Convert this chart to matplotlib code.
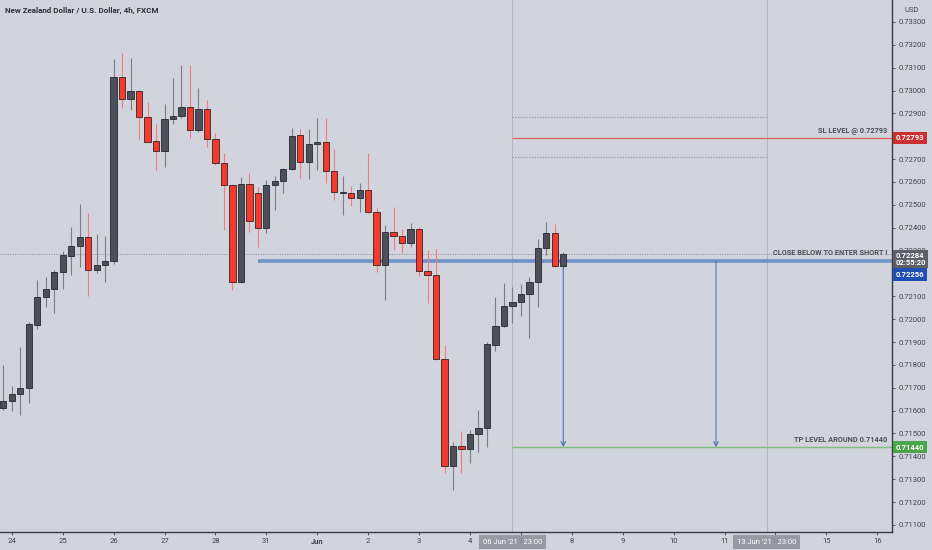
import numpy as np
import matplotlib
matplotlib.use('Agg')
from matplotlib import pyplot as plt
from matplotlib import transforms

plt.rcParams['font.family'] = ['Roboto', 'DejaVu Sans']

# NZDUSD 4h candles (one per 4h bar, weekend skipped)
opens = [0.71612, 0.71642, 0.71673, 0.71699, 0.71975, 0.72097, 0.72132, 0.72206, 0.72276, 0.72320,
         0.72360, 0.72215, 0.72237, 0.72255, 0.73059, 0.72963, 0.72998, 0.72885, 0.72779, 0.72736,
         0.72876, 0.72889, 0.72928, 0.72828, 0.72919, 0.72788, 0.72683, 0.72587, 0.72163, 0.72592,
         0.72552, 0.72399, 0.72587, 0.72605, 0.72657, 0.72806, 0.72688, 0.72766, 0.72775, 0.72648,
         0.72552, 0.72552, 0.72530, 0.72565, 0.72469, 0.72237, 0.72381, 0.72364, 0.72333, 0.72395,
         0.72211, 0.72193, 0.71826, 0.71358, 0.71445, 0.71432, 0.71498, 0.71524, 0.71887, 0.71970,
         0.72058, 0.72075, 0.72110, 0.72163, 0.72311, 0.72377, 0.72233]
highs = [0.71800, 0.71708, 0.71878, 0.71988, 0.72172, 0.72185, 0.72215, 0.72298, 0.72403, 0.72504,
         0.72465, 0.72373, 0.72364, 0.73138, 0.73164, 0.73143, 0.73003, 0.72950, 0.72854, 0.72941,
         0.73055, 0.73112, 0.73112, 0.73011, 0.72959, 0.72814, 0.72727, 0.72590, 0.72622, 0.72639,
         0.72579, 0.72609, 0.72626, 0.72660, 0.72836, 0.72832, 0.72832, 0.72880, 0.72880, 0.72744,
         0.72626, 0.72583, 0.72596, 0.72727, 0.72486, 0.72412, 0.72491, 0.72395, 0.72421, 0.72403,
         0.72303, 0.72307, 0.71887, 0.71463, 0.71511, 0.71516, 0.71603, 0.71900, 0.72097, 0.72158,
         0.72141, 0.72154, 0.72185, 0.72351, 0.72425, 0.72416, 0.72294]
lows = [0.71603, 0.71599, 0.71581, 0.71634, 0.71957, 0.72053, 0.72027, 0.72132, 0.72193, 0.72228,
        0.72102, 0.72202, 0.72163, 0.72241, 0.72924, 0.72915, 0.72788, 0.72771, 0.72653, 0.72666,
        0.72854, 0.72880, 0.72793, 0.72819, 0.72753, 0.72674, 0.72390, 0.72128, 0.72158, 0.72381,
        0.72316, 0.72377, 0.72478, 0.72552, 0.72653, 0.72618, 0.72614, 0.72653, 0.72596, 0.72521,
        0.72456, 0.72495, 0.72469, 0.72465, 0.72206, 0.72084, 0.72303, 0.72290, 0.72316, 0.72189,
        0.72071, 0.71822, 0.71327, 0.71253, 0.71327, 0.71371, 0.71419, 0.71441, 0.71861, 0.71966,
        0.71983, 0.72014, 0.71918, 0.72053, 0.72281, 0.72228, 0.72220]
closes = [0.71642, 0.71673, 0.71699, 0.71979, 0.72097, 0.72132, 0.72206, 0.72281, 0.72320, 0.72360,
          0.72215, 0.72237, 0.72255, 0.73059, 0.72963, 0.72998, 0.72884, 0.72775, 0.72736, 0.72876,
          0.72889, 0.72928, 0.72828, 0.72919, 0.72788, 0.72683, 0.72587, 0.72163, 0.72592, 0.72430,
          0.72399, 0.72587, 0.72605, 0.72657, 0.72801, 0.72688, 0.72766, 0.72775, 0.72648, 0.72556,
          0.72556, 0.72530, 0.72565, 0.72469, 0.72237, 0.72381, 0.72364, 0.72333, 0.72395, 0.72211,
          0.72193, 0.71826, 0.71358, 0.71445, 0.71432, 0.71498, 0.71524, 0.71892, 0.71970, 0.72058,
          0.72075, 0.72110, 0.72163, 0.72311, 0.72377, 0.72233, 0.72284]

day_labels = ['24', '25', '26', '27', '28', '31', 'Jun', '2', '3', '4',
              '7', '8', '9', '10', '11', '14', '15', '16']
day_bars = [1 + 6 * k for k in range(len(day_labels))]

price_ticks = [0.711, 0.712, 0.713, 0.714, 0.715, 0.716, 0.717, 0.718, 0.719, 0.720, 0.721,
               0.722, 0.723, 0.724, 0.725, 0.726, 0.727, 0.728, 0.729, 0.730, 0.731, 0.732, 0.733]
# these two sit fully under the price boxes on the axis
hidden_ticks = [0.722, 0.728]

sl_level = 0.72793
entry_level = 0.72256
tp_level = 0.71440
last_price = 0.72284
range_top = 0.72883
range_bottom = 0.72710
entry_start_bar = 30
zone_start_bar = 60
zone_end_bar = 90
arrow_bars = [66, 84]

bg = '#d1d4dc'
bull_c = '#4d505b'
bear_c = '#f33a2e'
blue = '#7092c8'

fig = plt.figure(figsize=(9.32, 5.5), dpi=100, facecolor=bg)
ax = fig.add_axes([0, 18 / 550, 892 / 932, 532 / 550], facecolor=bg)

x = np.arange(len(opens))
o = np.array(opens); h = np.array(highs); l = np.array(lows); c = np.array(closes)
up = c >= o

# wicks
ax.vlines(x[up], l[up], h[up], color='#7b7e88', lw=0.8, zorder=3)
ax.vlines(x[~up], l[~up], h[~up], color='#f27d78', lw=0.8, zorder=3)
# bodies
body_h = np.maximum(np.abs(c - o), 0.00002)
ax.bar(x[up], body_h[up], bottom=np.minimum(o, c)[up], width=0.74,
       color=bull_c, edgecolor='#262830', lw=0.6, zorder=4)
ax.bar(x[~up], body_h[~up], bottom=np.minimum(o, c)[~up], width=0.74,
       color=bear_c, edgecolor='#3a2020', lw=0.6, zorder=4)

# vertical date lines
for b in [zone_start_bar, zone_end_bar]:
    ax.axvline(b, color='#b4b7c0', lw=0.8, zorder=1)

# current price dotted line
ax.axhline(last_price, color='#8a8d96', lw=0.7, ls=(0, (1, 1.5)), zorder=2)

# dotted range lines
ax.hlines([range_top, range_bottom], zone_start_bar, zone_end_bar,
          color='#9a9ca8', lw=0.9, ls=(0, (1.2, 1)), zorder=2)

# SL / TP / entry lines
ax.hlines(sl_level, zone_start_bar, 105, color='#d9605f', lw=0.9, zorder=2)
ax.hlines(tp_level, zone_start_bar, 105, color='#7dbd78', lw=1.0, zorder=2)
ax.hlines(entry_level, entry_start_bar, 105, color=blue, lw=2.6, zorder=2)

for b in arrow_bars:
    ax.annotate('', xy=(b, tp_level), xytext=(b, entry_level),
                arrowprops=dict(arrowstyle='->', color='#4d74b8', lw=0.8,
                                shrinkA=0, shrinkB=0, mutation_scale=8), zorder=3)

lbl_kw = dict(fontsize=5.3, fontweight='bold', color='#4c4f59', ha='right', va='bottom')
ax.annotate('SL LEVEL @ 0.72793', xy=(104.15, sl_level), xytext=(0, 2),
            textcoords='offset points', **lbl_kw)
ax.annotate('CLOSE BELOW TO ENTER SHORT !', xy=(104.15, entry_level), xytext=(0, 2.5),
            textcoords='offset points', **lbl_kw)
ax.annotate('TP LEVEL AROUND 0.71440', xy=(104.15, tp_level), xytext=(0, 2),
            textcoords='offset points', **lbl_kw)

ax.set_xlim(-0.39, 104.74)
ax.set_ylim(0.71069, 0.73396)

# axes styling
for s in ['top', 'left']:
    ax.spines[s].set_visible(False)
for s in ['right', 'bottom']:
    ax.spines[s].set_color('#3a3c44')
    ax.spines[s].set_linewidth(1.0)
ax.yaxis.tick_right()
ax.set_yticks(price_ticks)
ax.set_yticklabels(['' if v in hidden_ticks else '%.5f' % v for v in price_ticks])
ax.set_xticks(day_bars)
ax.set_xticklabels(day_labels)
for t in ax.get_xticklabels():
    if t.get_text() == 'Jun':
        t.set_fontweight('bold')
ax.tick_params(axis='y', direction='out', length=2.5, width=0.6, pad=2,
               labelsize=5.5, colors='#40434c')
ax.tick_params(axis='x', direction='out', length=2.5, width=0.6, pad=2,
               labelsize=5.5, colors='#40434c')

# price boxes on the axis
ytr = transforms.blended_transform_factory(ax.transAxes, ax.transData)
box_kw = dict(xycoords=ytr, textcoords='offset points', ha='left', va='center',
              fontsize=5.5, fontweight='bold', color='white', annotation_clip=False, zorder=10)
ax.annotate('0.72793', xy=(1.0, sl_level), xytext=(2.5, 0),
            bbox=dict(boxstyle='square,pad=0.35', fc='#cc2f2f', ec='none'), **box_kw)
ax.annotate('0.72284\n02:55:20', xy=(1.0, last_price), xytext=(2.5, -3.2), linespacing=0.95,
            bbox=dict(boxstyle='square,pad=0.3', fc='#5d6069', ec='none'), **box_kw)
ax.annotate('0.72256', xy=(1.0, entry_level), xytext=(2.5, -10),
            bbox=dict(boxstyle='square,pad=0.35', fc='#1f4fb5', ec='none'), **box_kw)
ax.annotate('0.71440', xy=(1.0, tp_level), xytext=(2.5, 0),
            bbox=dict(boxstyle='square,pad=0.35', fc='#4aa64a', ec='none'), **box_kw)

# date boxes at the bottom
xtr = transforms.blended_transform_factory(ax.transData, ax.transAxes)
for b, txt in [(zone_start_bar, "06 Jun '21   23:00"), (zone_end_bar, "13 Jun '21   23:00")]:
    ax.annotate(txt, xy=(b, 0), xycoords=xtr, xytext=(0, -7), textcoords='offset points',
                ha='center', va='center', fontsize=5.5, color='white', annotation_clip=False,
                bbox=dict(boxstyle='square,pad=0.5', fc='#8e9099', ec='none', alpha=0.85),
                zorder=10)

fig.text(5 / 932, 1 - 10 / 550, 'New Zealand Dollar / U.S. Dollar, 4h, FXCM',
         fontsize=5.8, fontweight='bold', color='#2f3139', ha='left', va='center')
fig.text(912 / 932, 1 - 10 / 550, 'USD', fontsize=5.5, color='#40434c', ha='center', va='center')

fig.savefig('out.png', dpi=100, facecolor=bg)
